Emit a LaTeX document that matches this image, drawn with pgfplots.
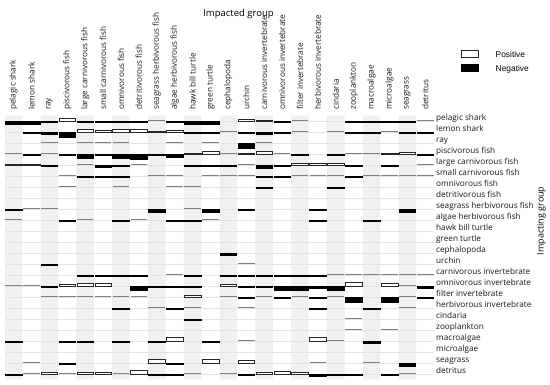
\documentclass[border=0pt]{standalone}
\usepackage{pgfplots}
\pgfplotsset{compat=1.18}
\usepackage{pgfplotstable}
\usepackage{fontspec}
\setmainfont{Open Sans}
\newfontfamily\legfont{Liberation Sans}
\pgfdeclareplotmark{blank}{}

% c = impacted group (column), r = impacting group (row), v = signed bar height
\pgfplotstableread{
c r v
0 0 -3.3
1 0 -3.3
2 0 -1.5
3 0 2.3
4 0 -1
5 0 -1
6 0 -1.3
7 0 -1
8 0 0.2
9 0 -1
10 0 -3.3
11 0 -3.3
13 0 1.3
14 0 0.8
15 0 -1
16 0 0.2
19 0 -1
20 0 -1
21 0 -1
22 0 -1
23 0 0.2
1 1 -1
2 1 -2.3
3 1 -5.3
4 1 2.3
5 1 1.8
6 1 2.5
7 1 3
8 1 0.8
9 1 2
10 1 -1
11 1 -1
12 1 0.2
13 1 -1
14 1 -2
15 1 -1
16 1 0.2
18 1 0.2
19 1 -1
20 1 -1
21 1 0.2
22 1 -1
23 1 -1
2 2 0.2
4 2 0.2
5 2 0.2
6 2 0.2
9 2 0.2
11 2 0.2
13 2 -5
14 2 0.2
0 3 0.2
1 3 -1
2 3 0.2
3 3 -1
4 3 -4.5
5 3 -1.5
6 3 -4.3
7 3 -5.5
8 3 -1.5
9 3 -3.5
10 3 0.8
11 3 2.3
12 3 0.2
13 3 0.6
14 3 2.5
15 3 0.2
16 3 -1.3
18 3 -1
19 3 0.2
20 3 0.2
21 3 0.6
22 3 1.3
23 3 -1
0 4 0.6
1 4 0.6
2 4 -1
4 4 0.2
5 4 -2.7
6 4 -1
7 4 0.2
10 4 -1
11 4 -1
12 4 -1.5
13 4 0.2
14 4 -3.5
15 4 -1
16 4 1.3
17 4 1.5
18 4 1.5
19 4 -1
21 4 -1
23 4 0.2
3 5 0.2
4 5 -1.2
5 5 -1
6 5 -1
8 5 0.2
9 5 0.2
11 5 0.2
12 5 0.2
13 5 0.2
14 5 -1
15 5 -1
16 5 0.2
17 5 0.2
18 5 0.2
19 5 -1
20 5 0.2
21 5 0.2
22 5 0.2
23 5 0.2
3 6 0.2
6 6 0.2
9 6 0.2
10 6 0.2
14 6 -1
18 6 -1
0 8 -1
1 8 0.2
2 8 0.2
8 8 -3.3
10 8 0.2
11 8 -3.3
13 8 -1.2
17 8 -1
22 8 -3
0 9 0.2
3 9 -1
4 9 0.2
6 9 -1
7 9 0.2
9 9 -1.2
10 9 -1
11 9 0.2
17 9 -1
20 9 -1.5
12 12 -2.7
2 13 -1
13 13 0.2
4 14 -1
5 14 -1
6 14 -1
7 14 -1
9 14 0.2
10 14 -1
12 14 -1
13 14 -1
14 14 -1
15 14 -1
16 14 -1
17 14 -1
18 14 0.2
19 14 0.2
20 14 0.2
21 14 0.2
22 14 0.2
23 14 0.2
0 15 0.2
1 15 0.2
2 15 -1
3 15 1.2
4 15 2.3
5 15 3
7 15 -4.3
8 15 -1
9 15 -1
10 15 -1
12 15 2
13 15 -1
14 15 -1
15 15 -4
16 15 -4.5
17 15 -2.3
18 15 -4
19 15 3.5
21 15 3
22 15 0.2
23 15 -2.3
2 16 0.2
3 16 0.2
4 16 0.2
5 16 0.2
6 16 0.2
7 16 0.2
10 16 2
12 16 0.2
13 16 -1
14 16 0.2
15 16 -1
16 16 0.2
17 16 -1
18 16 0.2
19 16 -5.3
21 16 -5
22 16 0.2
23 16 -1
6 17 -1
8 17 0.2
9 17 -1
10 17 0.2
13 17 0.2
17 17 -1
20 17 -1
22 17 0.2
10 18 -1
19 18 0.2
19 19 0.2
21 19 0.2
0 20 -1
3 20 -1
4 20 -1
6 20 -1
8 20 -1
9 20 4
11 20 -1
13 20 0.2
17 20 3.5
18 20 0.2
20 20 -2.5
1 22 0.2
3 22 -1
8 22 3.5
9 22 -1
11 22 3.5
13 22 3
17 22 0.2
20 22 0.2
22 22 -3.3
0 23 -1
1 23 0.2
2 23 1.3
3 23 0.2
4 23 1.2
5 23 1.2
6 23 0.2
7 23 3.3
8 23 -1
9 23 -1
10 23 0.2
12 23 0.2
13 23 -1
14 23 1.3
15 23 2.5
16 23 1.5
17 23 -2
18 23 -1
19 23 -1
21 23 -1
22 23 0.2
}\cells

\begin{document}
\begin{tikzpicture}
\useasboundingbox (0pt,0pt) rectangle (550pt,-384pt);
\begin{axis}[
  at={(4.6pt,-379.3pt)}, anchor=south west,
  scale only axis, width=429.6pt, height=264pt,
  xmin=0, xmax=24, ymin=0, ymax=24, y dir=reverse,
  clip=false,
  axis line style={draw=none},
  major tick length=0pt,
  xtick={0.5,1.5,2.5,3.5,4.5,5.5,6.5,7.5,8.5,9.5,10.5,11.5,12.5,13.5,14.5,15.5,16.5,17.5,18.5,19.5,20.5,21.5,22.5,23.5},
  ytick={0.5,1.5,2.5,3.5,4.5,5.5,6.5,7.5,8.5,9.5,10.5,11.5,12.5,13.5,14.5,15.5,16.5,17.5,18.5,19.5,20.5,21.5,22.5,23.5},
  xticklabels={pelagic shark,lemon shark,ray,piscivorous fish,large carnivorous fish,small carnivorous fish,omnivorous fish,detritivorous fish,seagrass herbivorous fish,algae herbivorous fish,hawk bill turtle,green turtle,cephalopoda,urchin,carnivorous invertebrate,omnivorous invertebrate,filter invertebrate,herbivorous invertebrate,cindaria,zooplankton,macroalgae,microalgae,seagrass,detritus},
  yticklabels={pelagic shark,lemon shark,ray,piscivorous fish,large carnivorous fish,small carnivorous fish,omnivorous fish,detritivorous fish,seagrass herbivorous fish,algae herbivorous fish,hawk bill turtle,green turtle,cephalopoda,urchin,carnivorous invertebrate,omnivorous invertebrate,filter invertebrate,herbivorous invertebrate,cindaria,zooplankton,macroalgae,microalgae,seagrass,detritus},
  xticklabel pos=upper,
  yticklabel pos=right,
  xticklabel style={rotate=90, anchor=west, inner sep=0pt, xshift=5.3pt, font=\fontsize{8.2}{9.8}\selectfont, text=black!90},
  yticklabel style={anchor=base west, inner sep=0pt, xshift=1.8pt, font=\fontsize{8.2}{9.8}\selectfont, text=black!90},
  title={Impacted group},
  title style={at={(axis description cs:0.5445,1.362)}, anchor=center, font=\fontsize{9.5}{11}\selectfont},
  ylabel={Impacting group},
  ylabel style={at={(axis description cs:1.2498,0.60)}, anchor=center, font=\fontsize{9}{11}\selectfont},
  legend style={at={(axis description cs:1.0617,1.25)}, anchor=north west, draw=none, fill=none,
    inner sep=0pt, row sep=4.3pt, font=\legfont\fontsize{8.4}{10}\selectfont,
    nodes={inner sep=0pt, text height=6pt, text depth=2pt},
    /tikz/every odd column/.append style={column sep=17.7pt}},
  legend cell align=left,
  legend image code/.code={\draw[#1] (0pt,-1.5pt) rectangle (16.6pt,5.5pt);},
]
% alternating grey column bands
\addplot[ybar, bar width=0.98, fill=gray!12, draw=none, forget plot]
  coordinates {(0.5,24) (2.5,24) (4.5,24) (6.5,24) (8.5,24) (10.5,24) (12.5,24) (14.5,24) (16.5,24) (18.5,24) (20.5,24) (22.5,24)};
% faint row lines
\addplot[xcomb, gray!22, line width=0.4pt, mark=none, forget plot]
  coordinates {(24,0.5) (24,1.5) (24,2.5) (24,3.5) (24,4.5) (24,5.5) (24,6.5) (24,7.5) (24,8.5) (24,9.5) (24,10.5) (24,11.5) (24,12.5) (24,13.5) (24,14.5) (24,15.5) (24,16.5) (24,17.5) (24,18.5) (24,19.5) (24,20.5) (24,21.5) (24,22.5) (24,23.5)};
% interaction bars
\addplot[scatter, only marks, mark=blank, forget plot,
  visualization depends on={\thisrow{v}\as\val},
  scatter/@pre marker code/.code={%
    \pgfmathsetmacro\vv{\val}%
    \ifdim\vv pt<0.3pt
      \ifdim\vv pt>-0.3pt
        \draw[gray, line width=0.8pt] (-8.3pt,0pt) -- (8.3pt,0pt);
      \else
        \fill[black] (-8.3pt,0pt) rectangle (8.3pt,\vv pt);
      \fi
    \else
      \draw[black!85, fill=white, line width=0.5pt] (-8.3pt,0pt) rectangle (8.3pt,\vv pt);
    \fi
  },
  scatter/@post marker code/.code={}]
  table[x expr=\thisrow{c}+0.5, y expr=\thisrow{r}+0.5] {\cells};
\addlegendimage{draw=black!85, fill=white, line width=0.5pt}
\addlegendentry{Positive}
\addlegendimage{draw=black, fill=black}
\addlegendentry{Negative}
\end{axis}
\end{tikzpicture}
\end{document}
